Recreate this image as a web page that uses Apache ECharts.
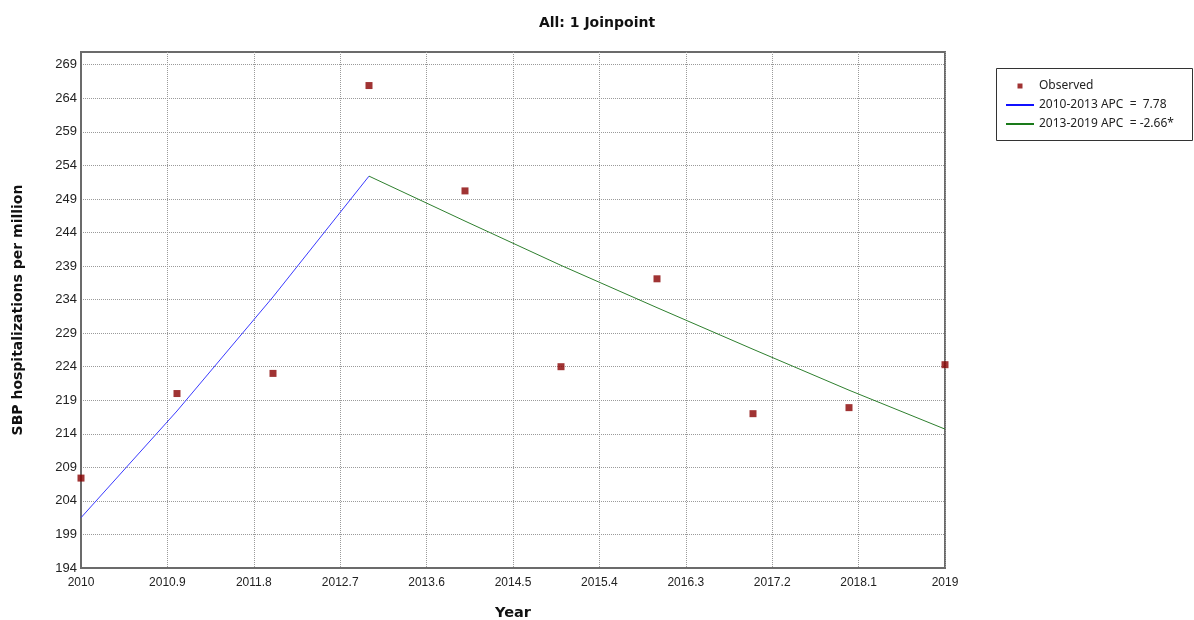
<!DOCTYPE html>
<html>
<head>
<meta charset="utf-8">
<script src="https://cdn.jsdelivr.net/npm/echarts@6/dist/echarts.min.js"></script>
<style>
html,body{margin:0;padding:0;background:#fff;}
#chart{width:1194px;height:620px;}
</style>
</head>
<body>
<div id="chart"></div>
<script>
// ---- data ----
var years = [2010, 2011, 2012, 2013, 2014, 2015, 2016, 2017, 2018, 2019];
var observed = [207.4, 220.0, 223.0, 265.9, 250.2, 224.0, 237.1, 217.0, 217.9, 224.3];
var seg1Years = [2010, 2011, 2012, 2013];
var seg1Fit = [201.5, 217.4, 234.4, 252.4];
var seg2Years = [2013, 2014, 2015, 2016, 2017, 2018, 2019];
var seg2Fit = [252.4, 245.7, 239.1, 232.8, 226.6, 220.5, 214.7];
var xTicks = [2010, 2010.9, 2011.8, 2012.7, 2013.6, 2014.5, 2015.4, 2016.3, 2017.2, 2018.1, 2019];
var yTicks = [194, 199, 204, 209, 214, 219, 224, 229, 234, 239, 244, 249, 254, 259, 264, 269];
var seriesNames = ['Observed', '2010-2013 APC  =  7.78', '2013-2019 APC  = -2.66*'];

function pairs(xs, ys) { return xs.map(function (x, i) { return [x, ys[i]]; }); }

var chart = echarts.init(document.getElementById('chart'), null, {renderer: 'canvas'});
var gridLine = {show: true, lineStyle: {color: '#9a9a9a', type: [1, 1], width: 1}};
var option = {
  backgroundColor: '#ffffff',
  animation: false,
  title: {
    text: 'All: 1 Joinpoint',
    left: 'center',
    top: 11,
    textStyle: {fontFamily: 'DejaVu Sans', fontWeight: 'bold', fontSize: 14, color: '#111'}
  },
  grid: {
    left: 81, right: 249, top: 52, bottom: 52,
    outerBoundsMode: 'none',
    containLabel: false,
    show: true, borderColor: '#6b6b6b', borderWidth: 2, backgroundColor: '#fff'
  },
  legend: {
    orient: 'vertical',
    left: 1006,
    top: 79,
    padding: 0,
    itemGap: 5,
    itemWidth: 28,
    itemHeight: 5,
    symbolKeepAspect: true,
    textStyle: {fontFamily: 'Noto Sans', fontSize: 12, color: '#222', lineHeight: 14},
    data: [
      {name: seriesNames[0], icon: 'path://M0,0h1v1h-1z'},
      {name: seriesNames[1], icon: 'path://M0,0h28v2h-28z'},
      {name: seriesNames[2], icon: 'path://M0,0h28v2h-28z'}
    ]
  },
  graphic: [{
    type: 'rect',
    shape: {x: 996.5, y: 68.5, width: 196, height: 72},
    style: {fill: 'none', stroke: '#333', lineWidth: 1},
    silent: true
  }],
  xAxis: {
    type: 'value',
    min: 2010, max: 2019,
    name: 'Year',
    nameLocation: 'middle',
    nameGap: 38,
    nameTextStyle: {fontFamily: 'DejaVu Sans', fontWeight: 'bold', fontSize: 14.5, color: '#111'},
    axisLine: {show: true, lineStyle: {color: '#6b6b6b', width: 2}},
    axisTick: {show: false, customValues: xTicks},
    axisLabel: {
      customValues: xTicks,
      margin: 9,
      fontFamily: 'Liberation Sans', fontSize: 12, color: '#222',
      formatter: function (v) { return String(Math.round(v * 10) / 10); }
    },
    splitLine: gridLine
  },
  yAxis: {
    type: 'value',
    min: 194, max: 270.9,
    name: 'SBP hospitalizations per million',
    nameLocation: 'middle',
    nameGap: 56,
    nameTextStyle: {fontFamily: 'DejaVu Sans', fontWeight: 'bold', fontSize: 14, color: '#111'},
    axisLine: {show: true, lineStyle: {color: '#6b6b6b', width: 2}},
    axisTick: {show: false, customValues: yTicks},
    axisLabel: {
      customValues: yTicks,
      margin: 4,
      fontFamily: 'Liberation Sans', fontSize: 13, color: '#222'
    },
    splitLine: gridLine
  },
  series: [
    {
      name: seriesNames[0],
      type: 'scatter',
      data: pairs(years, observed),
      symbol: 'rect',
      symbolSize: 7,
      itemStyle: {color: '#880000'},
      z: 5
    },
    {
      name: seriesNames[1],
      type: 'line',
      data: pairs(seg1Years, seg1Fit),
      symbol: 'none',
      lineStyle: {color: '#3a3aff', width: 1},
      itemStyle: {color: '#1010ff'},
      z: 3
    },
    {
      name: seriesNames[2],
      type: 'line',
      data: pairs(seg2Years, seg2Fit),
      symbol: 'none',
      lineStyle: {color: '#2e7f2e', width: 1},
      itemStyle: {color: '#1a7a1a'},
      z: 3
    }
  ]
};
chart.setOption(option);
</script>
</body>
</html>
